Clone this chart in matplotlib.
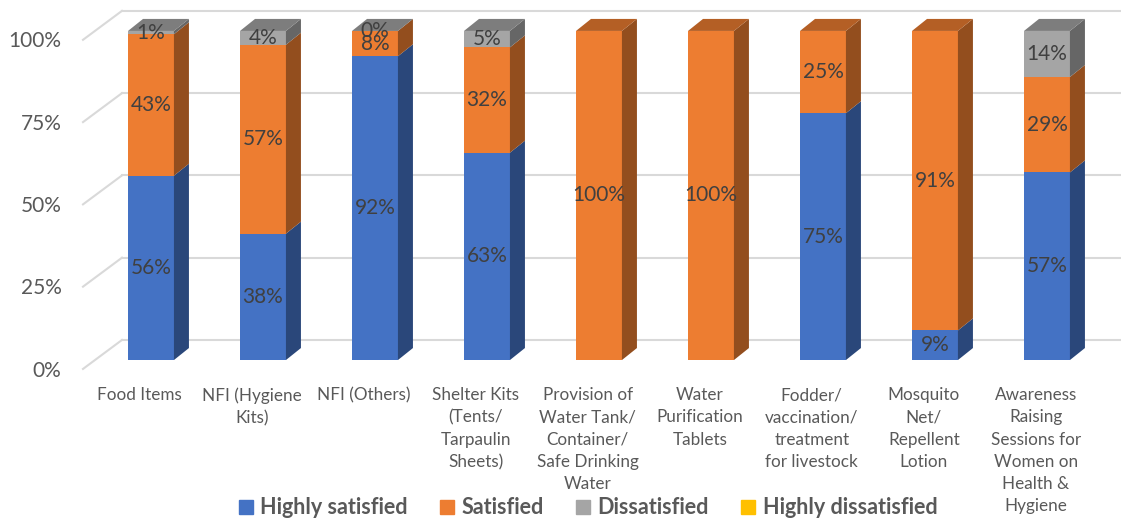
import numpy as np
import matplotlib
matplotlib.use("Agg")
import matplotlib.pyplot as plt
from matplotlib.patches import Patch

plt.rcParams['font.family'] = ['Lato', 'DejaVu Sans']

# ---- data (None = blank cell, no label) ----
categories = ["Food Items", "NFI (Hygiene\nKits)", "NFI (Others)",
              "Shelter Kits\n(Tents/\nTarpaulin\nSheets)",
              "Provision of\nWater Tank/\nContainer/\nSafe Drinking\nWater",
              "Water\nPurification\nTablets",
              "Fodder/\nvaccination/\ntreatment\nfor livestock",
              "Mosquito\nNet/\nRepellent\nLotion",
              "Awareness\nRaising\nSessions for\nWomen on\nHealth &\nHygiene"]
highly_satisfied = [56, 38.4, 92.3, 63, None, None, 75, 9, 57]
satisfied = [43, 57.4, 7.7, 32, 100, 100, 25, 91, 29]
dissatisfied = [1, 4.2, 0, 5, None, None, None, None, 14]
highly_dissatisfied = [None] * 9

series_names = ["Highly satisfied", "Satisfied", "Dissatisfied", "Highly dissatisfied"]
series_colors = ["#4472C4", "#ED7D31", "#A5A5A5", "#FFC000"]
yticks = [0, 25, 50, 75, 100]

series = [highly_satisfied, satisfied, dissatisfied, highly_dissatisfied]
vals = np.array([[np.nan if v is None else v for v in s] for s in series], dtype=float)

# ---- layout ----
fig = plt.figure(figsize=(11.21, 5.2), dpi=100)
ax = fig.add_axes([0, 0, 1, 1])
ax.set_xlim(-1.348, 8.661)
ax.set_ylim(-48.6, 109.4)
ax.axis('off')

bw = 0.41          # bar width
dx, dy = 0.134, 3.65   # bar depth
grid_c = "#D9D9D9"
txt_c = "#595959"

# back wall gridlines + left wall slants
for t in yticks:
    ax.plot([-0.607, -0.259], [t - 2.7, t + 6.1], color=grid_c, lw=1.5, zorder=0)
    ax.plot([-0.259, 8.7], [t + 6.1, t + 6.1], color=grid_c, lw=1.5, zorder=0)
    ax.text(-0.80, t - 3.2, f"{t}%", ha='right', va='center', fontsize=15, color=txt_c)


def shade(c, f):
    r, g, b = matplotlib.colors.to_rgb(c)
    return (r * f, g * f, b * f)


x = np.arange(len(categories))
for i in x:
    bottom = 0.0
    col = vals[:, i]
    tops = [k for k in range(4) if not np.isnan(col[k])]
    top_k = tops[-1]
    for k in range(4):
        v = col[k]
        if np.isnan(v):
            continue
        c = series_colors[k]
        xl, xr = i - bw / 2, i + bw / 2
        ax.bar(i, v, bw, bottom=bottom, color=c, zorder=2)
        ax.fill([xr, xr + dx, xr + dx, xr],
                [bottom, bottom + dy, bottom + v + dy, bottom + v],
                color=shade(c, 0.62), zorder=2, lw=0)
        if k == top_k:
            yt = bottom + v
            ax.fill([xl, xl + dx, xr + dx, xr], [yt, yt + dy, yt + dy, yt],
                    color=shade(c, 0.76), zorder=2, lw=0)
        ax.text(i, bottom + v / 2, f"{v:.0f}%", ha='center', va='center',
                fontsize=15, color="#404040", zorder=3)
        bottom += v

for i, lab in enumerate(categories):
    ax.text(i - 0.1, -8.2, lab, ha='center', va='top', fontsize=12.3,
            color=txt_c, linespacing=1.48)

handles = [Patch(color=c, label=n) for c, n in zip(series_colors, series_names)]
leg = fig.legend(handles=handles, loc='center', bbox_to_anchor=(588 / 1121, 1 - 508 / 520),
                 ncol=4, frameon=False, handlelength=0.65, handleheight=0.65,
                 handletextpad=0.35, columnspacing=1.5,
                 prop={'size': 15.5, 'weight': 'bold'})
for t in leg.get_texts():
    t.set_color(txt_c)

fig.savefig("out.png", dpi=100)
